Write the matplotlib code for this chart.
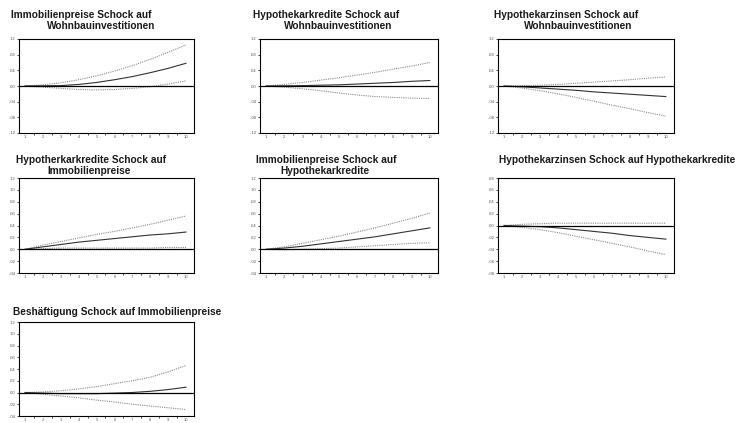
import matplotlib
matplotlib.use("Agg")
import matplotlib.pyplot as plt
import numpy as np

plt.rcParams['font.family'] = ['Liberation Sans', 'DejaVu Sans']

periods = np.arange(1, 11)

# Impulse responses (point estimate, upper and lower band) for each shock
imm_wohn = [0, 0.0005, 0.001, 0.004, 0.009, 0.016, 0.024, 0.034, 0.045, 0.058]
imm_wohn_hi = [0, 0.003, 0.008, 0.016, 0.026, 0.038, 0.052, 0.068, 0.086, 0.105]
imm_wohn_lo = [0, -0.003, -0.006, -0.009, -0.010, -0.009, -0.006, -0.002, 0.005, 0.013]

hyk_wohn = [0, 0.0005, 0.001, 0.002, 0.003, 0.005, 0.007, 0.009, 0.012, 0.014]
hyk_wohn_hi = [0, 0.004, 0.009, 0.015, 0.021, 0.028, 0.035, 0.043, 0.051, 0.060]
hyk_wohn_lo = [0, -0.003, -0.007, -0.012, -0.018, -0.023, -0.027, -0.029, -0.031, -0.032]

hyz_wohn = [0, -0.002, -0.005, -0.008, -0.011, -0.015, -0.018, -0.021, -0.024, -0.027]
hyz_wohn_hi = [0, 0.001, 0.002, 0.004, 0.007, 0.010, 0.013, 0.016, 0.020, 0.023]
hyz_wohn_lo = [0, -0.005, -0.012, -0.020, -0.029, -0.039, -0.049, -0.058, -0.068, -0.077]

hyk_imm = [0, 0.004, 0.008, 0.012, 0.015, 0.018, 0.021, 0.024, 0.026, 0.029]
hyk_imm_hi = [0, 0.007, 0.013, 0.019, 0.025, 0.030, 0.036, 0.042, 0.049, 0.056]
hyk_imm_lo = [0, 0.001, 0.002, 0.002, 0.002, 0.002, 0.002, 0.002, 0.003, 0.003]

imm_hyk = [0, 0.002, 0.005, 0.009, 0.013, 0.017, 0.021, 0.026, 0.031, 0.036]
imm_hyk_hi = [0, 0.004, 0.010, 0.016, 0.022, 0.029, 0.036, 0.044, 0.052, 0.061]
imm_hyk_lo = [0, -0.001, 0.000, 0.001, 0.002, 0.004, 0.006, 0.008, 0.010, 0.011]

hyz_hyk = [0, -0.001, -0.002, -0.004, -0.007, -0.010, -0.013, -0.017, -0.020, -0.023]
hyz_hyk_hi = [0, 0.002, 0.003, 0.004, 0.004, 0.004, 0.004, 0.004, 0.004, 0.004]
hyz_hyk_lo = [0, -0.003, -0.007, -0.012, -0.018, -0.024, -0.030, -0.036, -0.043, -0.049]

bes_imm = [0, -0.001, -0.002, -0.002, -0.002, -0.001, 0.000, 0.002, 0.005, 0.009]
bes_imm_hi = [0, 0.001, 0.003, 0.006, 0.010, 0.015, 0.020, 0.026, 0.035, 0.046]
bes_imm_lo = [0, -0.003, -0.006, -0.009, -0.013, -0.016, -0.020, -0.023, -0.026, -0.029]

W, H = 740, 423

# (title lines with their pixel centres, axes box in pixels, y range, y step, data)
panels = [
    ([("Immobilienpreise Schock auf", 81, 15), ("Wohnbauinvestitionen", 101, 26)],
     (19, 39, 194, 133), (-0.12, 0.12), 0.04, (imm_wohn, imm_wohn_hi, imm_wohn_lo)),
    ([("Hypothekarkredite Schock auf", 326, 15), ("Wohnbauinvestitionen", 338, 26)],
     (260, 39, 438, 133), (-0.12, 0.12), 0.04, (hyk_wohn, hyk_wohn_hi, hyk_wohn_lo)),
    ([("Hypothekarzinsen Schock auf", 566, 15), ("Wohnbauinvestitionen", 578, 26)],
     (498, 39, 674, 133), (-0.12, 0.12), 0.04, (hyz_wohn, hyz_wohn_hi, hyz_wohn_lo)),
    ([("Hypotherkarkredite Schock auf", 91, 160), ("Immobilienpreise", 89, 171)],
     (19, 178, 194, 273), (-0.04, 0.12), 0.02, (hyk_imm, hyk_imm_hi, hyk_imm_lo)),
    ([("Immobilienpreise Schock auf", 326, 160), ("Hypothekarkredite", 325, 171)],
     (260, 178, 438, 273), (-0.04, 0.12), 0.02, (imm_hyk, imm_hyk_hi, imm_hyk_lo)),
    ([("Hypothekarzinsen Schock auf Hypothekarkredite", 617, 160)],
     (498, 178, 674, 273), (-0.08, 0.08), 0.02, (hyz_hyk, hyz_hyk_hi, hyz_hyk_lo)),
    ([("Beshäftigung Schock auf Immobilienpreise", 117, 312)],
     (19, 322, 194, 416), (-0.04, 0.12), 0.02, (bes_imm, bes_imm_hi, bes_imm_lo)),
]


def fmt(v):
    s = f"{v:.2f}"
    return s.replace("0.", ".")


fig = plt.figure(figsize=(W / 100, H / 100), dpi=100)

for titles, (x0, y0, x1, y1), ylim, step, (mid, hi, lo) in panels:
    ax = fig.add_axes([x0 / W, 1 - y1 / H, (x1 - x0) / W, (y1 - y0) / H])
    ax.plot(periods, hi, color='#8a8a8a', lw=0.8, ls=(0, (1, 1)))
    ax.plot(periods, lo, color='#8a8a8a', lw=0.8, ls=(0, (1, 1)))
    ax.plot(periods, mid, color='#333333', lw=0.8)
    ax.axhline(0, color='black', lw=0.9)
    ax.set_xlim(0.665, 10.45)
    ax.set_ylim(*ylim)
    yt = np.round(np.arange(ylim[0], ylim[1] + step / 2, step), 2)
    ax.set_yticks(yt)
    ax.set_yticklabels([fmt(v) for v in yt])
    ax.set_xticks(periods)
    ax.set_xticks(periods[:-1] + 0.5, minor=True)
    ax.tick_params(axis='x', which='major', length=0, labelsize=3, colors='#555555', pad=1.5)
    ax.tick_params(axis='x', which='minor', length=1.5, width=0.5, direction='out', color='black')
    ax.tick_params(axis='y', length=1.5, width=0.5, labelsize=3, colors='#555555', pad=1)
    ax.tick_params(axis='y', color='black')
    for sp in ax.spines.values():
        sp.set_linewidth(0.8)
    for text, cx, cy in titles:
        fig.text(cx / W, 1 - cy / H, text, ha='center', va='center',
                 fontsize=7.3, fontweight='bold', color='#1a1a1a')

fig.savefig("out.png", dpi=100)
